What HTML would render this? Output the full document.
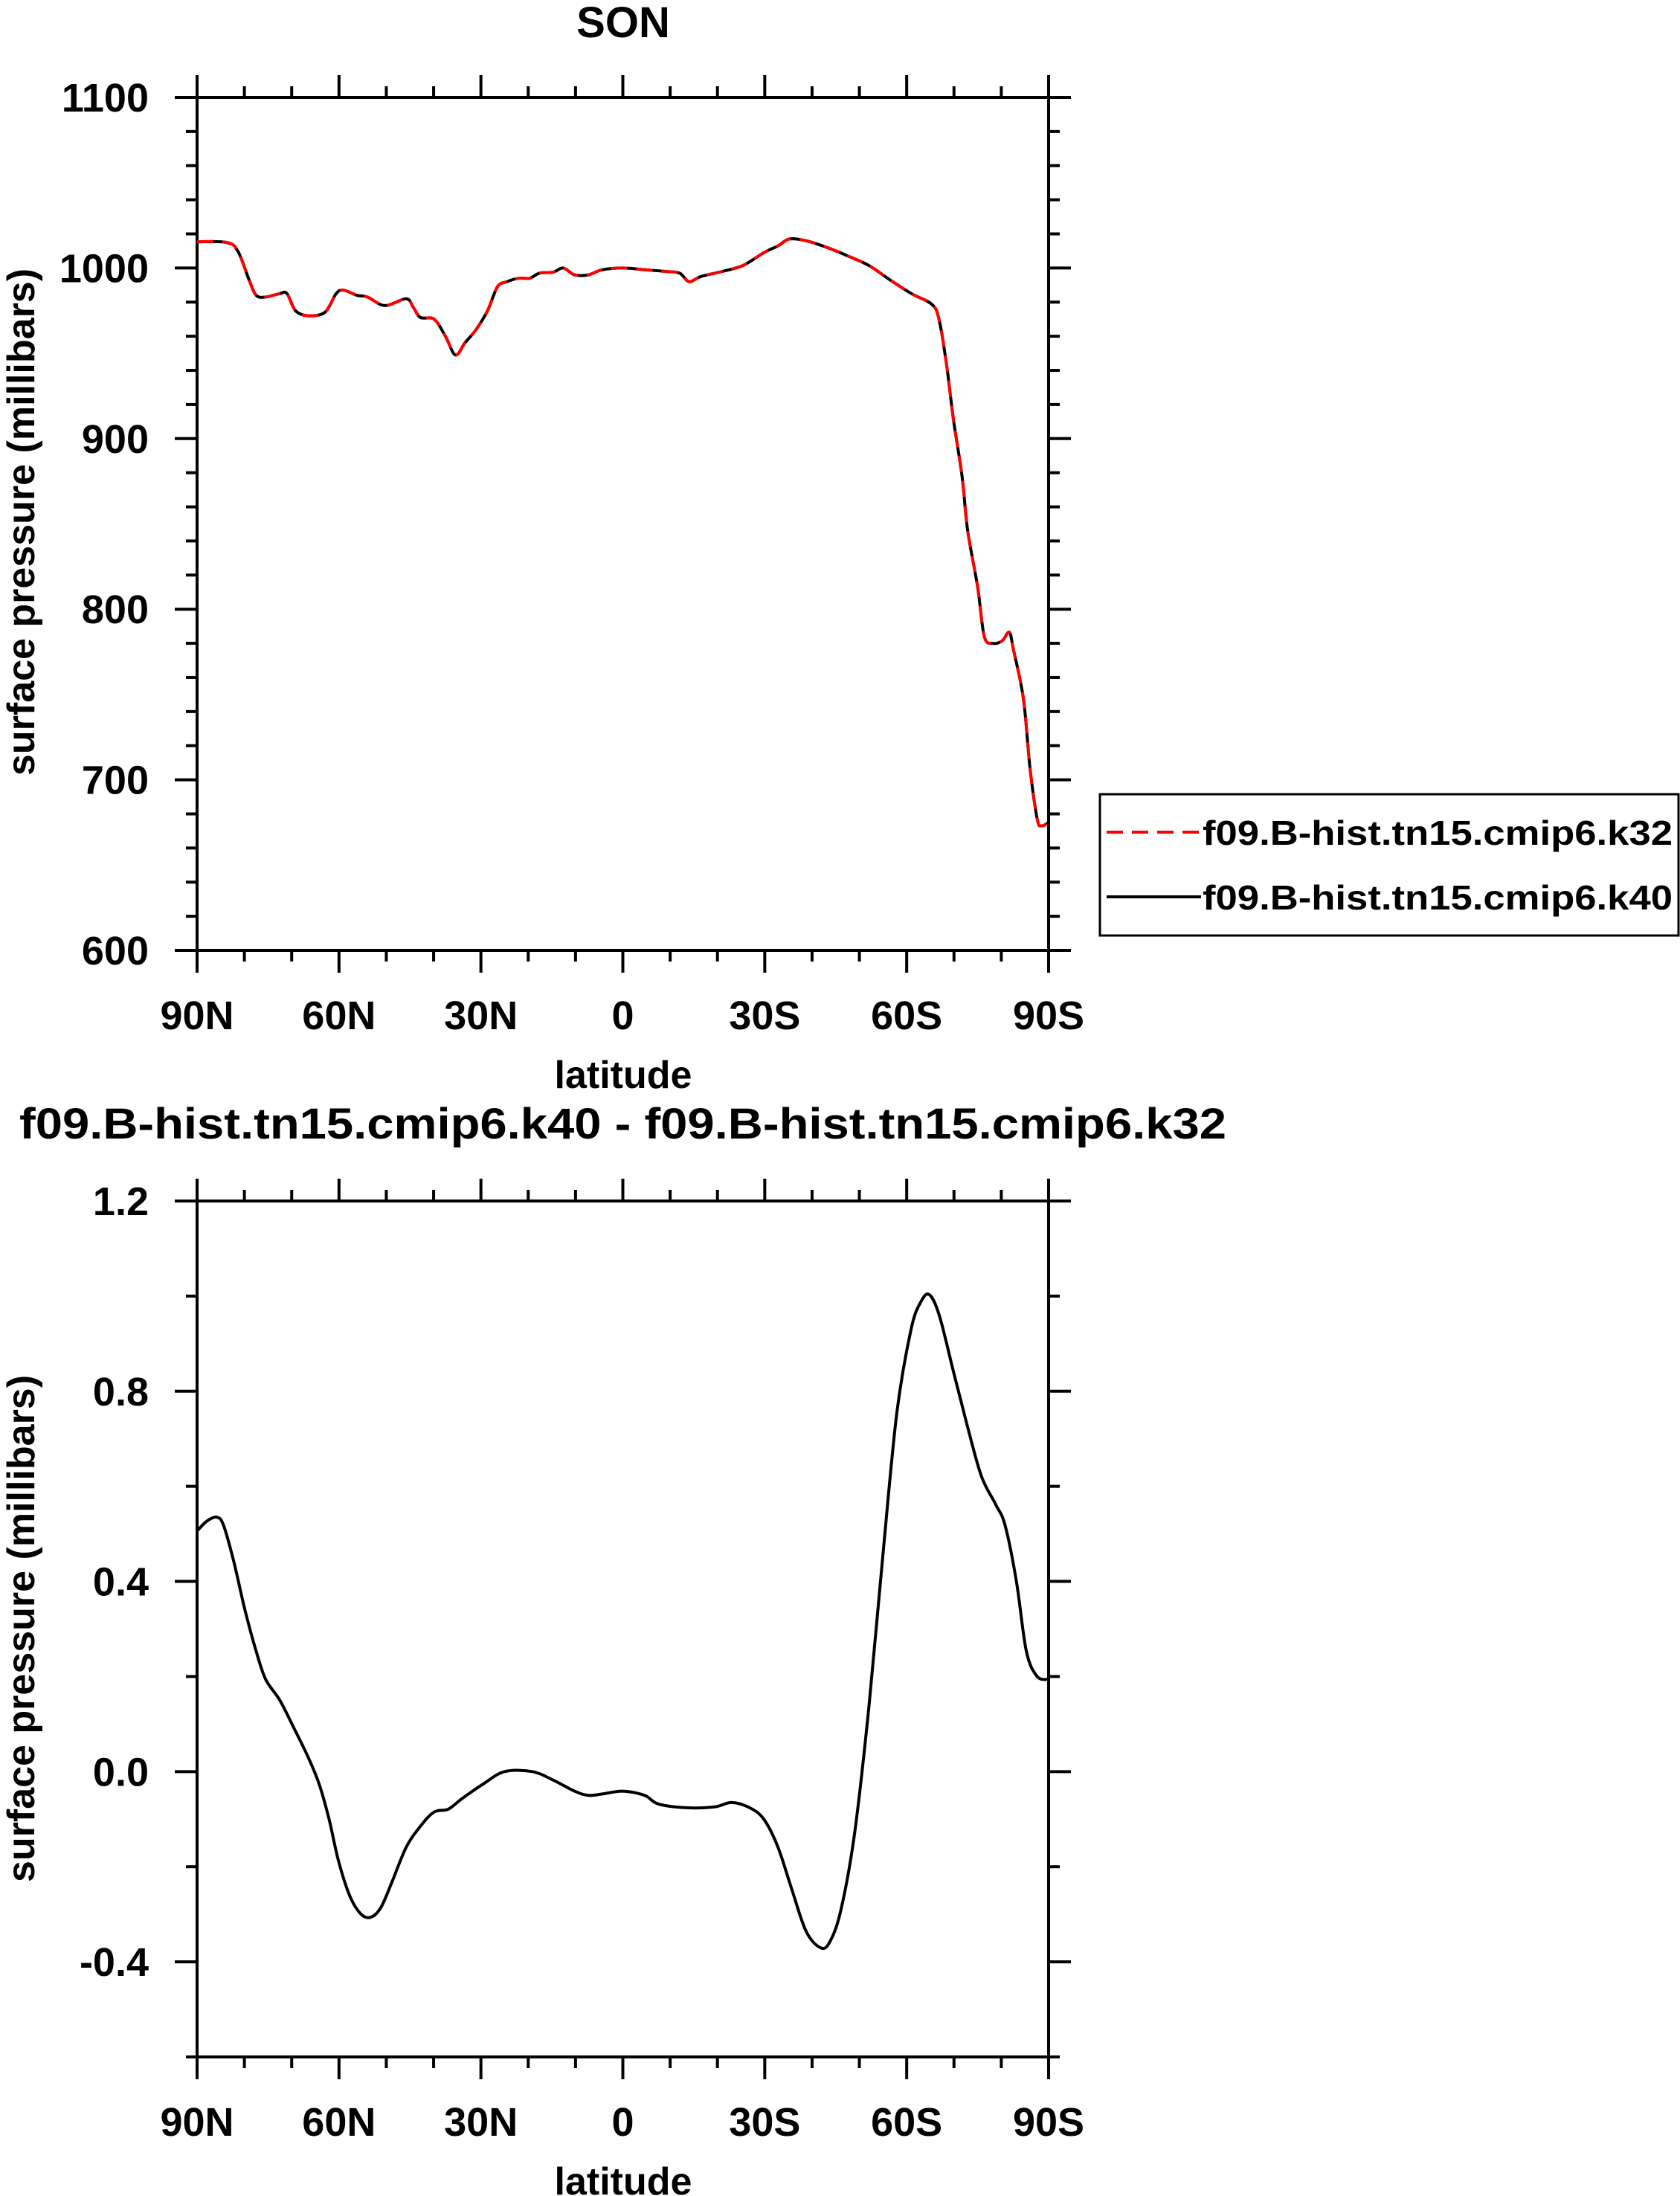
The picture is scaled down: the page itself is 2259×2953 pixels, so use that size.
<!DOCTYPE html>
<html><head><meta charset="utf-8">
<style>
html,body{margin:0;padding:0;background:#fff;}
svg{display:block;font-family:"Liberation Sans",Arial,sans-serif;font-weight:bold;}
</style></head>
<body>
<svg id="chart" width="2259" height="2953" viewBox="0 0 2259 2953" xmlns="http://www.w3.org/2000/svg">
<rect width="2259" height="2953" fill="#fff"/>
<text x="838" y="50" font-size="58" text-anchor="middle">SON</text>
<text x="26" y="1531" font-size="58" textLength="1623" lengthAdjust="spacingAndGlyphs">f09.B-hist.tn15.cmip6.k40 - f09.B-hist.tn15.cmip6.k32</text>
<g id="top"></g>
<g id="bottom"></g>
<g>
<rect x="1479" y="1068" width="778" height="190" fill="#fff" stroke="#000" stroke-width="3"/>
<line x1="1488" y1="1119" x2="1615" y2="1119" stroke="#f00" stroke-width="4" stroke-dasharray="22,12"/>
<text x="1617" y="1136" font-size="46" textLength="632" lengthAdjust="spacingAndGlyphs">f09.B-hist.tn15.cmip6.k32</text>
<line x1="1488" y1="1206" x2="1615" y2="1206" stroke="#000" stroke-width="4"/>
<text x="1617" y="1223" font-size="46" textLength="632" lengthAdjust="spacingAndGlyphs">f09.B-hist.tn15.cmip6.k40</text>
</g>
</svg>
<script>
// Top panel data (latitude, surface pressure mb)
const topLats = [90,83.8,81.4,79,77.5,75.5,72.5,71,69.2,66.6,63,60.6,59,56.2,54,50.3,45.8,44.3,42.8,39.9,37.5,35.4,33.4,31,28.6,26.5,24.5,22,19.7,17.6,14.7,12.6,10.2,7.3,4.3,0,-4.6,-9,-12,-14,-16.5,-21,-25.4,-29.8,-32.8,-35.2,-38.7,-43.2,-47.6,-52,-56.5,-61,-65.4,-66.9,-68.4,-69.9,-71.7,-72.9,-75,-76.4,-78.2,-80.2,-81.7,-82.6,-84.7,-86.1,-87.6,-88.5,-90];
const k32Values = [1015.4,1015,1010,993,984,983,985,985,975,972,974,985,987,984,983,978,982,977,971,970,960,949,956,964,975,989,992,994,994,997,997.6,1000,996,996,999,1000,999,998,997,992,995,998,1001.5,1009,1013,1017,1016,1012,1007,1001.5,993,985,978.5,969,944,911,878,846,813,784,780,781.5,786.5,776,747,706,677,673,675];
const k40Values = [1015.4,1015,1010,993,984,983,985,985,975,972,974,985,987,984,983,978,982,977,971,970,960,949,956,964,975,989,992,994,994,997,997.6,1000,996,996,999,1000,999,998,997,992,995,998,1001.5,1009,1013,1017,1016,1012,1007,1001.5,993,985,978.5,969,944,911,878,846,813,784,780,781.5,786.5,776,747,706,677,673,675];
const topYTicks = [600,700,800,900,1000,1100];
// Bottom panel data (difference)
const diffLats = [90,87.9,85.8,84.4,82.3,79.9,77.5,75.5,72.5,69.5,66.6,64.2,62.1,60.1,57.7,55.3,53.2,51.1,48.8,45.8,42.8,39.9,36.9,33.9,29.5,25,19.1,14.7,10.2,7.3,4.3,0,-4.6,-7.5,-13.5,-19.4,-23,-26.8,-29.8,-32.8,-35.7,-38.7,-41.7,-43.7,-46.1,-49,-52,-55,-57.9,-60.9,-63,-64.8,-66.9,-69.9,-72.9,-75.8,-78.8,-80.8,-83.2,-85.3,-87.6,-90];
const diffValues = [0.506,0.527,0.535,0.518,0.444,0.341,0.253,0.194,0.15,0.091,0.032,-0.026,-0.1,-0.188,-0.262,-0.3,-0.306,-0.285,-0.232,-0.159,-0.115,-0.085,-0.079,-0.056,-0.026,0,0,-0.018,-0.041,-0.05,-0.047,-0.041,-0.05,-0.068,-0.076,-0.074,-0.065,-0.076,-0.1,-0.159,-0.247,-0.335,-0.37,-0.359,-0.291,-0.129,0.135,0.459,0.753,0.929,0.988,1.003,0.959,0.841,0.724,0.621,0.562,0.518,0.4,0.253,0.2,0.194];
const diffYTicks = [-0.4,0.0,0.4,0.8,1.2];
const diffYTickLabels = ["-0.4","0.0","0.4","0.8","1.2"];
const xTicks = [90,60,30,0,-30,-60,-90];
const xTickLabels = ["90N","60N","30N","0","30S","60S","90S"];

const NS="http://www.w3.org/2000/svg";
function mk(parent,tag,attrs,text){const e=document.createElementNS(NS,tag);for(const k in attrs)e.setAttribute(k,attrs[k]);if(text!==undefined)e.textContent=text;parent.appendChild(e);return e;}

function smoothPath(P){
  let d='M'+P[0][0].toFixed(1)+','+P[0][1].toFixed(1);
  for(let i=0;i<P.length-1;i++){
    const p0=P[Math.max(0,i-1)],p1=P[i],p2=P[i+1],p3=P[Math.min(P.length-1,i+2)];
    const c1x=p1[0]+(p2[0]-p0[0])/6,c1y=p1[1]+(p2[1]-p0[1])/6;
    const c2x=p2[0]-(p3[0]-p1[0])/6,c2y=p2[1]-(p3[1]-p1[1])/6;
    d+=' C'+c1x.toFixed(1)+','+c1y.toFixed(1)+' '+c2x.toFixed(1)+','+c2y.toFixed(1)+' '+p2[0].toFixed(1)+','+p2[1].toFixed(1);
  }
  return d;
}

function panel(g,cfg){
  const L=265,R=1410,T=cfg.top,B=cfg.bottom;
  const xs=lat=>L+(90-lat)/180*(R-L);
  const ys=v=>B-(v-cfg.ymin)/(cfg.ymax-cfg.ymin)*(B-T);
  const lw=4;
  for(let lat=90;lat>=-90;lat-=10){
    const major=lat%30===0, len=major?30:15, x=xs(lat);
    let t=mk(g,'line',{x1:x,y1:B,x2:x,y2:B+len,stroke:'#000','stroke-width':lw});
    
    
    t=mk(g,'line',{x1:x,y1:T,x2:x,y2:T-len,stroke:'#000','stroke-width':lw});
    
    
  }
  for(let i=0;i<xTicks.length;i++){
    const t=mk(g,'text',{x:xs(xTicks[i]),y:B+106,'font-size':54,'text-anchor':'middle'},xTickLabels[i]);
    
    
  }
  const n=Math.round((cfg.ymax-cfg.ymin)/cfg.minor);
  for(let i=0;i<=n;i++){
    const v=cfg.ymin+i*cfg.minor, y=ys(v);
    const major=cfg.ticks.some(tv=>Math.abs(tv-v)<1e-6), len=major?30:15;
    let t=mk(g,'line',{x1:L,y1:y,x2:L-len,y2:y,stroke:'#000','stroke-width':lw});
    
    
    t=mk(g,'line',{x1:R,y1:y,x2:R+len,y2:y,stroke:'#000','stroke-width':lw});
    
    
  }
  for(let i=0;i<cfg.ticks.length;i++){
    const t=mk(g,'text',{x:200,y:ys(cfg.ticks[i])+19,'font-size':54,'text-anchor':'end'},cfg.labels[i]);
    
    
  }
  const fr=mk(g,'rect',{x:L,y:T,width:R-L,height:B-T,fill:'none',stroke:'#000','stroke-width':lw});
  
  
  const xt=mk(g,'text',{x:838,y:B+185,'font-size':52,'text-anchor':'middle'},'latitude');
  
  
  const yt=mk(g,'text',{x:0,y:0,'font-size':52,'text-anchor':'middle',transform:`translate(46,${cfg.ytitleY}) rotate(-90)`},'surface pressure (millibars)');
  
  
  cfg.series.forEach(s=>{
    const P=s.lats.map((la,i)=>[xs(la),ys(s.vals[i])]);
    const p=mk(g,'path',{d:smoothPath(P),fill:'none',stroke:s.color,'stroke-width':4,'stroke-linejoin':'round','stroke-dasharray':s.dash||'none'});
    
    
  });
}
panel(document.getElementById('top'),{top:131,bottom:1278,ymin:600,ymax:1100,minor:20,ticks:topYTicks,labels:topYTicks.map(String),ytitleY:702,
  series:[{lats:topLats,vals:k40Values,color:'#000',name:'line-k40'},{lats:topLats,vals:k32Values,color:'#f00',dash:'22,12',name:'line-k32'}]});
panel(document.getElementById('bottom'),{top:1615,bottom:2766,ymin:-0.6,ymax:1.2,minor:0.2,ticks:diffYTicks,labels:diffYTickLabels,ytitleY:2190,
  series:[{lats:diffLats,vals:diffValues,color:'#000',name:'line-difference'}]});
</script>
</body></html>
